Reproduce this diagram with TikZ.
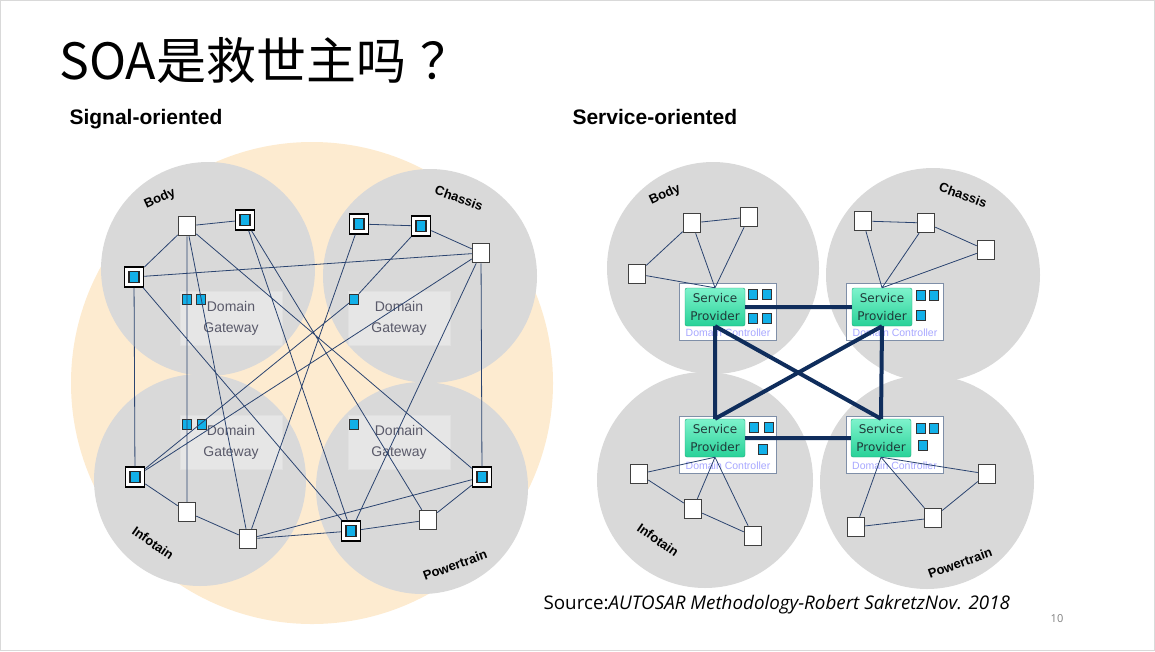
\documentclass[tikz,border=0pt]{standalone}
\usepackage{fontspec}
\setmainfont{Liberation Sans}
\newfontfamily\cjk{Noto Sans CJK SC}
\newfontfamily\spfont{DejaVu Sans}
\newfontfamily\srcfont{Open Sans}
\usetikzlibrary{shapes,positioning}

\definecolor{peach}{HTML}{FDEBD0}
\definecolor{zonegray}{HTML}{D9D9D9}
\definecolor{gwgray}{HTML}{E6E6E6}
\definecolor{gwtext}{HTML}{5A5A6A}
\definecolor{linknavy}{HTML}{2B4470}
\definecolor{busnavy}{HTML}{0F2D5C}
\definecolor{ecucyan}{HTML}{12B0E8}
\definecolor{mintlight}{HTML}{7EF3CC}
\definecolor{mintdark}{HTML}{28D198}
\definecolor{sptext}{HTML}{203A3A}
\definecolor{dctext}{HTML}{A8A8FF}
\definecolor{dcborder}{HTML}{7F8FA8}

\begin{document}
\begin{tikzpicture}[
        x=1pt, y=-1pt,
        ecu/.style={draw=black!75, line width=1.5pt, fill=white, minimum width=17pt, minimum height=19pt, inner sep=0pt},
        ecublue/.style={ecu, draw=black, minimum width=19pt, minimum height=20pt,
            path picture={\draw[black!85, line width=1.1pt, fill=ecucyan]
                ([xshift=-5pt,yshift=-5.5pt]path picture bounding box.center) rectangle
                ([xshift=5pt,yshift=5.5pt]path picture bounding box.center);}},
        port/.style={draw=black!80, line width=1pt, fill=ecucyan, minimum width=9pt, minimum height=10pt, inner sep=0pt},
        gwbox/.style={draw=black!12, fill=gwgray, minimum width=102pt, minimum height=54pt, align=center,
            text=gwtext, font=\fontsize{14}{21}\selectfont},
        dcbox/.style={draw=dcborder, fill=white, minimum width=97pt, minimum height=57pt, inner sep=0pt},
        dctext/.style={text=dctext, font=\fontsize{10.5}{11}\selectfont, inner sep=0pt},
        svc/.style={draw=mintdark!80!black, rounded corners=2pt, top color=mintlight, bottom color=mintdark,
            minimum width=60pt, minimum height=38pt, inner sep=0pt, align=center, text=sptext,
            font=\spfont\fontsize{12}{18}\selectfont},
        link/.style={draw=linknavy, line width=0.8pt},
        bus/.style={draw=busnavy, line width=4pt},
        zonelabel/.style={font=\bfseries\fontsize{13}{15}\selectfont},
        heading/.style={anchor=base west, font=\bfseries\fontsize{21}{24}\selectfont}
    ]
  \useasboundingbox (0,0) rectangle (1155,651);
  \draw[black!15] (0.5,0.5) rectangle (1154.5,650.5);

  % Titles
  \node[anchor=west, font=\cjk\fontsize{50}{54}\selectfont] (title) at (56,60) {SOA是救世主吗\kern14pt？};
  \node[heading] (sighead) at (66,124) {Signal-oriented};
  \node[heading] (svchead) at (569,124) {Service-oriented};

  % Signal-oriented zones
  \fill[peach] (312,383) circle[radius=241pt];
  \fill[zonegray] (208,269) circle[radius=107pt];
  \fill[zonegray] (430,276) circle[radius=107pt];
  \fill[zonegray] (200,480) circle[radius=106pt];
  \fill[zonegray] (422,488) circle[radius=106pt];

  \node[zonelabel, rotate=25] (lbody) at (160,199) {Body};
  \node[zonelabel, rotate=-20] (lchassis) at (459,198) {Chassis};
  \node[zonelabel, rotate=-35] (linfo) at (153,543) {Infotain};
  \node[zonelabel, rotate=20] (lpower) at (455,565) {Powertrain};

  % Gateways
  \node[gwbox] (bgw) at (231,318) {Domain\\Gateway};
  \node[gwbox] (cgw) at (399,318) {Domain\\Gateway};
  \node[gwbox] (igw) at (231,442) {Domain\\Gateway};
  \node[gwbox] (pgw) at (399,442) {Domain\\Gateway};
  \node[port] (bgp1) at (187,299) {};
  \node[port] (bgp2) at (201,299) {};
  \node[port] (cgp1) at (354,299) {};
  \node[port] (igp1) at (187,424) {};
  \node[port] (igp2) at (202,424) {};
  \node[port] (pgp1) at (354,424) {};

  % ECUs
  \node[ecu] (b1) at (187,226) {};
  \node[ecublue] (b2) at (245,220) {};
  \node[ecublue] (b3) at (134,277) {};
  \node[ecublue] (c1) at (359,224) {};
  \node[ecublue] (c2) at (421,226) {};
  \node[ecu] (c3) at (481,253) {};
  \node[ecublue] (i1) at (135,477) {};
  \node[ecu] (i2) at (187,512) {};
  \node[ecu] (i3) at (248,539) {};
  \node[ecublue] (p1) at (482,477) {};
  \node[ecu] (p2) at (428,520) {};
  \node[ecublue] (p3) at (351,531) {};

  \draw[link] (b1) -- (b2) (b1) -- (b3) (b1) -- (i2) (b1) -- (i3) (b1) -- (p1)
    (b2) -- (p3) (b2) -- (p2)
    (b3) -- (c3) (b3) -- (i1) (b3) -- (p3)
    (c1) -- (c2) (c2) -- (c3) (c1) -- (i3) (c2) -- (cgp1) (cgp1) -- (i1)
    (c3) -- (i1) (c3) -- (p1) (c3) -- (p3)
    (i1) -- (i2) (i2) -- (i3) (i3) -- (p3) (i3) -- (p1) (p3) -- (p2) (p2) -- (p1);

  % Service-oriented zones
  \fill[zonegray] (713,268) circle[radius=106pt];
  \fill[zonegray] (933,275) circle[radius=107pt];
  \fill[zonegray] (705,480) circle[radius=108pt];
  \fill[zonegray] (927,482) circle[radius=107pt];

  \node[zonelabel, rotate=25] (rlbody) at (665,195) {Body};
  \node[zonelabel, rotate=-20] (rlchassis) at (963,195) {Chassis};
  \node[zonelabel, rotate=-35] (rlinfo) at (658,540) {Infotain};
  \node[zonelabel, rotate=20] (rlpower) at (960,563) {Powertrain};

  % Domain controllers
  \node[dcbox] (bdc) at (728,311.5) {};
  \node[dcbox] (cdc) at (895,311.5) {};
  \node[dcbox] (idc) at (728,444.5) {};
  \node[dcbox] (pdc) at (894.5,444.5) {};
  \node[dctext] (bdct) at (728,333) {Domain Controller};
  \node[dctext] (cdct) at (895,333) {Domain Controller};
  \node[dctext] (idct) at (728,466) {Domain Controller};
  \node[dctext] (pdct) at (894.5,466) {Domain Controller};

  \node[svc] (bsp) at (715,307) {Service\\Provider};
  \node[svc] (csp) at (882,307) {Service\\Provider};
  \node[svc] (isp) at (715,438) {Service\\Provider};
  \node[svc] (psp) at (881,438) {Service\\Provider};

  \node[port] (bq1) at (753,294) {};
  \node[port] (bq2) at (767,294) {};
  \node[port] (bq3) at (753,318) {};
  \node[port] (bq4) at (767,318) {};
  \node[port] (cq1) at (921,295) {};
  \node[port] (cq2) at (934,295) {};
  \node[port] (cq3) at (921,315) {};
  \node[port] (iq1) at (754,427) {};
  \node[port] (iq2) at (769,427) {};
  \node[port] (iq3) at (763,449) {};
  \node[port] (pq1) at (921,428) {};
  \node[port] (pq2) at (934,428) {};
  \node[port] (pq3) at (923,445) {};

  \draw[bus] (bsp) -- (csp) (isp) -- (psp)
    (bsp.south) -- (isp.north) (csp.south) -- (psp.north)
    (bsp.south) -- (psp.north) (csp.south) -- (isp.north);

  % Right ECUs
  \node[ecu] (rb1) at (692,223) {};
  \node[ecu] (rb2) at (749,217) {};
  \node[ecu] (rb3) at (637,274) {};
  \node[ecu] (rc1) at (863,221) {};
  \node[ecu] (rc2) at (926,223) {};
  \node[ecu] (rc3) at (986,250) {};
  \node[ecu] (ri1) at (639,474) {};
  \node[ecu] (ri2) at (693,509) {};
  \node[ecu] (ri3) at (753,536) {};
  \node[ecu] (rp1) at (856,527) {};
  \node[ecu] (rp2) at (933,518) {};
  \node[ecu] (rp3) at (987,474) {};

  \draw[link] (rb1) -- (rb2) (rb1) -- (rb3)
    (rb1) -- (bsp.north) (rb2) -- (bsp.north) (rb3) -- (bsp.north)
    (rc1) -- (rc2) (rc2) -- (rc3)
    (rc1) -- (csp.north) (rc2) -- (csp.north) (rc3) -- (csp.north)
    (ri1) -- (ri2) (ri2) -- (ri3)
    (ri1) -- (isp.south) (ri2) -- (isp.south) (ri3) -- (isp.south)
    (rp1) -- (rp2) (rp2) -- (rp3)
    (rp1) -- (psp.south) (rp2) -- (psp.south) (rp3) -- (psp.south);

  % Source
  \node[anchor=base west, font=\srcfont\fontsize{18.8}{20}\selectfont] (src) at (540,609)
    {Source:\textit{AUTOSAR Methodology-Robert SakretzNov. 2018}};
  \node[font=\srcfont\fontsize{11}{12}\selectfont, text=black!50] (pnum) at (1057,619) {10};
\end{tikzpicture}
\end{document}
